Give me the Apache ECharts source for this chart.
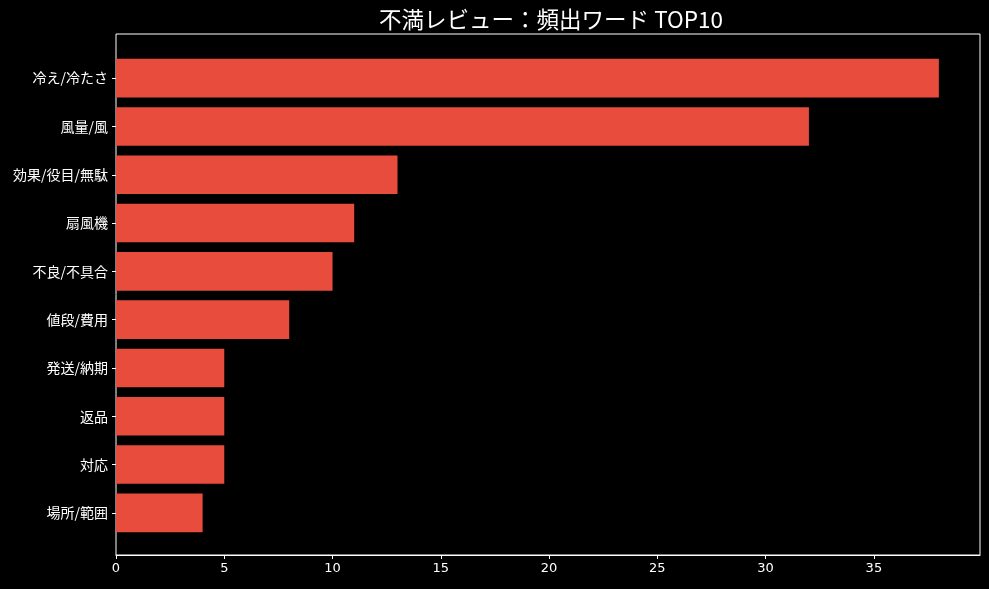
<!DOCTYPE html>
<html>
<head>
<meta charset="utf-8">
<script src="https://cdn.jsdelivr.net/npm/echarts@6/dist/echarts.min.js"></script>
<style>
html,body{margin:0;padding:0;background:#000;}
#chart{width:989px;height:589px;}
</style>
</head>
<body>
<div id="chart"></div>
<script>
const titleText = '不満レビュー：頻出ワード TOP10';
const categories = ['冷え/冷たさ','風量/風','効果/役目/無駄','扇風機','不良/不具合','値段/費用','発送/納期','返品','対応','場所/範囲'];
const counts = [38, 32, 13, 11, 10, 8, 5, 5, 5, 4];
const xMin = 0, xMax = 39.9, xInterval = 5;

const FONT = '"DejaVu Sans", "Noto Sans CJK JP", sans-serif';
const CJK = '"Noto Sans CJK JP", "DejaVu Sans", sans-serif';
const chart = echarts.init(document.getElementById('chart'), null, {renderer: 'canvas'});
chart.setOption({
  backgroundColor: '#000000',
  animation: false,
  title: {
    text: titleText,
    left: 546, top: 3, textAlign: 'center',
    textStyle: {color: '#ffffff', fontSize: 22.5, fontWeight: 'normal', fontFamily: CJK}
  },
  grid: [
    {left: 116, right: 9, top: 34, bottom: 34, show: true, borderColor: '#ffffff', borderWidth: 1, backgroundColor: 'transparent'},
    {left: 116, right: 9, top: 54, bottom: 52}
  ],
  xAxis: [
    {gridIndex: 0, type: 'value', min: xMin, max: xMax, interval: xInterval,
     axisLine: {show: true, lineStyle: {color: '#ffffff'}},
     axisTick: {show: true, length: 4, lineStyle: {color: '#ffffff'}},
     axisLabel: {color: '#ffffff', fontSize: 13, fontFamily: FONT, margin: 7, showMaxLabel: false},
     splitLine: {show: false}},
    {gridIndex: 1, type: 'value', min: xMin, max: xMax, show: false, splitLine: {show: false}}
  ],
  yAxis: [
    {gridIndex: 0, type: 'value', show: false, splitLine: {show: false}},
    {gridIndex: 1, type: 'category', data: categories, inverse: true,
     axisLine: {show: false},
     axisTick: {show: true, alignWithLabel: true, length: 4, lineStyle: {color: '#ffffff'}},
     axisLabel: {color: '#ffffff', fontSize: 14, fontFamily: CJK, margin: 8}}
  ],
  series: [{
    type: 'bar', xAxisIndex: 1, yAxisIndex: 1,
    data: counts,
    barWidth: '80%',
    itemStyle: {color: '#e74c3c'}
  }]
});
</script>
</body>
</html>
